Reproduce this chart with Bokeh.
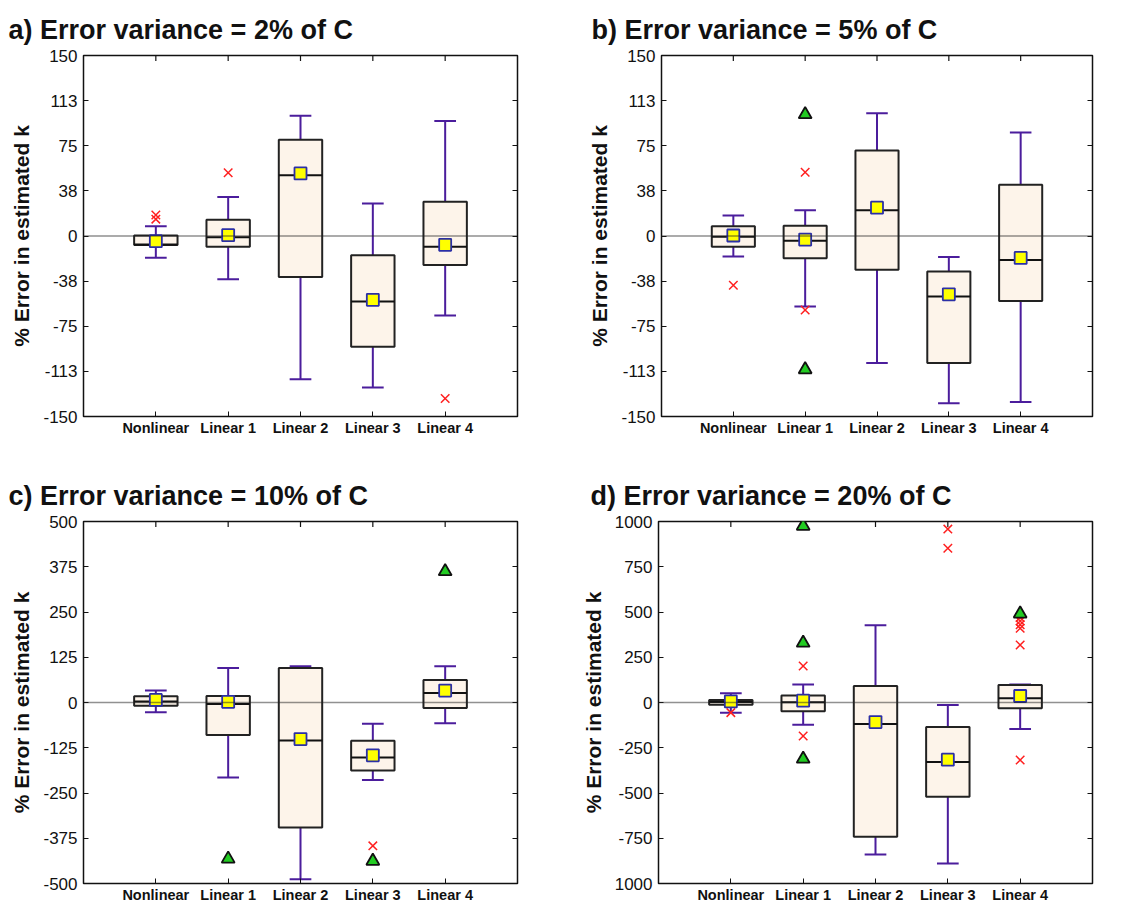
import math
from bokeh.plotting import figure
from bokeh.layouts import column, row
from bokeh.models import FixedTicker, LinearAxis, Span, Range1d, ColumnDataSource
from bokeh.embed import file_html
from bokeh.resources import INLINE

categories = ["Nonlinear", "Linear 1", "Linear 2", "Linear 3", "Linear 4"]

# ---- panel a: error variance 2% ----
a_lo = [-18, -36, -119, -126, -66]
a_q1 = [-7.5, -9, -34, -92, -24]
a_med = [-7, -1, 50.5, -54.5, -9]
a_q3 = [0.5, 13.5, 80, -16, 28.5]
a_hi = [8, 32.5, 100, 27, 95.5]
a_mean = [-4.3, 0.7, 52, -53, -7.3]
a_out_cat = ["Nonlinear", "Nonlinear", "Linear 1", "Linear 4"]
a_out_val = [14, 17.5, 52.5, -135]
a_tri_cat = []
a_tri_val = []

# ---- panel b: error variance 5% ----
b_lo = [-17, -58.5, -105.5, -139, -138]
b_q1 = [-9, -18.5, -28, -105.5, -54]
b_med = [-0.7, -4, 21.5, -50.3, -20]
b_q3 = [8, 8.5, 71, -29.5, 42.5]
b_hi = [17, 21.5, 102, -17.5, 86]
b_mean = [0.4, -3, 23.5, -48.5, -18.2]
b_out_cat = ["Nonlinear", "Linear 1", "Linear 1"]
b_out_val = [-41, 53, -61.5]
b_tri_cat = ["Linear 1", "Linear 1"]
b_tri_val = [101, -111]

# ---- panel c: error variance 10% ----
c_lo = [-27, -207, -488, -214, -57]
c_q1 = [-9, -90, -345, -188, -15]
c_med = [3, -4, -105, -152, 26]
c_q3 = [17, 18, 95, -106, 62]
c_hi = [33, 95, 100, -59, 100]
c_mean = [7, 2, -101, -146, 33]
c_out_cat = ["Linear 3"]
c_out_val = [-396]
c_tri_cat = ["Linear 1", "Linear 3", "Linear 4"]
c_tri_val = [-432, -438, 362]

# ---- panel d: error variance 20% ----
d_lo = [-56, -123, -840, -889, -147]
d_q1 = [-12, -49, -742, -521, -32]
d_med = [3, 1, -119, -329, 23]
d_q3 = [14, 38, 91, -135, 97]
d_hi = [51, 99, 427, -14, 100]
d_mean = [6, 10, -108, -316, 36]
d_out_cat = ["Nonlinear", "Linear 1", "Linear 1", "Linear 3", "Linear 3",
             "Linear 4", "Linear 4", "Linear 4", "Linear 4", "Linear 4", "Linear 4"]
d_out_val = [-56, 202, -185, 958, 852, 470, 450, 430, 410, 318, -318]
d_tri_cat = ["Linear 1", "Linear 1", "Linear 1", "Linear 4"]
d_tri_val = [975, 329, -312, 490]

ticks_ab = [-150, -112.5, -75, -37.5, 0, 37.5, 75, 112.5, 150]
labels_ab = ["-150", "-113", "-75", "-38", "0", "38", "75", "113", "150"]
ticks_c = [-500, -375, -250, -125, 0, 125, 250, 375, 500]
labels_c = ["-500", "-375", "-250", "-125", "0", "125", "250", "375", "500"]
ticks_d = [-1000, -750, -500, -250, 0, 250, 500, 750, 1000]
labels_d = ["1000", "-750", "-500", "-250", "0", "250", "500", "750", "1000"]

titles = ["a) Error variance = 2% of C", "b) Error variance = 5% of C",
          "c) Error variance = 10% of C", "d) Error variance = 20% of C"]
ylabel = "% Error in estimated k"

FONT = "Liberation Sans"
BOX_FILL = "#fdf4ea"
WHISK = "#4b1d9c"
MEAN_FILL = "#ffff00"
MEAN_LINE = "#2b2fa6"
OUT_COL = "#ff2020"
TRI_FILL = "#22cc22"
INK = "#111111"


def xpos(cat):
    return categories.index(cat) + 1


def mirror_axis(ticks):
    return LinearAxis(ticker=FixedTicker(ticks=ticks),
                      major_label_overrides={t: "" for t in ticks},
                      major_label_text_color=None, major_label_text_font_size="1px",
                      major_tick_in=5, major_tick_out=0, minor_tick_line_color=None,
                      major_label_standoff=0, axis_line_color=INK, major_tick_line_color=INK)


def make_panel(title, lo, q1, med, q3, hi, mean, out_cat, out_val, tri_cat, tri_val,
               yticks, ylabels, yrange, fw, fh, left, top, right, bottom, toff):
    xs = [xpos(c) for c in categories]
    p = figure(frame_width=fw, frame_height=fh, min_border_left=left, min_border_top=top,
               min_border_right=right, min_border_bottom=bottom,
               x_range=Range1d(0, len(categories) + 1), y_range=Range1d(*yrange),
               output_backend="svg", toolbar_location=None, title=title)
    p.title.text_font = FONT
    p.title.text_font_size = "27px"
    p.title.text_font_style = "bold"
    p.title.text_color = INK
    p.title.vertical_align = "top"
    p.title.align = "left"
    p.title.offset = toff
    p.title.standoff = 17
    p.grid.visible = False
    p.outline_line_color = INK
    p.outline_line_width = 1.5
    p.background_fill_color = "white"
    p.border_fill_color = "white"

    xa = p.xaxis[0]
    xa.ticker = FixedTicker(ticks=xs)
    xa.major_label_overrides = {x: c for x, c in zip(xs, categories)}
    xa.minor_tick_line_color = None
    xa.major_tick_in = 5
    xa.major_tick_out = 0
    xa.major_tick_line_color = INK
    xa.major_label_standoff = 3
    xa.major_label_text_font = FONT
    xa.major_label_text_font_size = "14.5px"
    xa.major_label_text_font_style = "bold"
    xa.major_label_text_color = INK
    xa.axis_line_color = INK

    ya = p.yaxis[0]
    ya.ticker = FixedTicker(ticks=yticks)
    ya.major_label_overrides = {t: l for t, l in zip(yticks, ylabels)}
    ya.minor_tick_line_color = None
    ya.major_tick_in = 5
    ya.major_tick_out = 0
    ya.major_tick_line_color = INK
    ya.major_label_standoff = 6
    ya.major_label_text_font = FONT
    ya.major_label_text_font_size = "17px"
    ya.major_label_text_color = INK
    ya.axis_label = ylabel
    ya.axis_label_text_font = FONT
    ya.axis_label_text_font_size = "21px"
    ya.axis_label_text_font_style = "bold"
    ya.axis_label_text_color = INK
    ya.axis_label_standoff = 7
    ya.axis_line_color = INK

    p.add_layout(mirror_axis(yticks), "right")
    # inward tick marks along the top edge (half of each dash is clipped by the frame)
    p.scatter(xs, [yrange[1]] * len(xs), marker="dash", size=11, angle=math.pi / 2,
              line_color=INK, line_width=1.2)

    src = ColumnDataSource(dict(x=xs, lo=lo, q1=q1, med=med, q3=q3, hi=hi, mean=mean,
                                x0=[x - 0.15 for x in xs], x1=[x + 0.15 for x in xs],
                                m0=[x - 0.3 for x in xs], m1=[x + 0.3 for x in xs]))
    p.segment(x0="x", y0="lo", x1="x", y1="hi", source=src, line_color=WHISK, line_width=2)
    p.segment(x0="x0", y0="hi", x1="x1", y1="hi", source=src, line_color=WHISK, line_width=2)
    p.segment(x0="x0", y0="lo", x1="x1", y1="lo", source=src, line_color=WHISK, line_width=2)
    p.vbar(x="x", width=0.6, bottom="q1", top="q3", source=src, fill_color=BOX_FILL,
           line_color="#222222", line_width=2)
    p.segment(x0="m0", y0="med", x1="m1", y1="med", source=src, line_color=INK,
              line_width=2)
    zero = Span(location=0, dimension="width", line_color="#222222", line_width=1.4,
                line_dash="1 1")
    p.add_layout(zero)
    if out_cat:
        p.scatter([xpos(c) for c in out_cat], out_val, marker="x", size=12,
                  line_color=OUT_COL, line_width=1.5)
    if tri_cat:
        p.scatter([xpos(c) for c in tri_cat], tri_val, marker="triangle", size=13,
                  fill_color=TRI_FILL, line_color=INK, line_width=1.8)
    p.scatter("x", "mean", source=src, marker="square", size=12, fill_color=MEAN_FILL,
              line_color=MEAN_LINE, line_width=1.8)
    return p


pa = make_panel(titles[0], a_lo, a_q1, a_med, a_q3, a_hi, a_mean, a_out_cat, a_out_val,
                a_tri_cat, a_tri_val, ticks_ab, labels_ab, (-150, 150),
                434, 361, 83, 55, 49, 44, -75)
pb = make_panel(titles[1], b_lo, b_q1, b_med, b_q3, b_hi, b_mean, b_out_cat, b_out_val,
                b_tri_cat, b_tri_val, ticks_ab, labels_ab, (-150, 150),
                431, 361, 95, 55, 40, 44, -70)
pc = make_panel(titles[2], c_lo, c_q1, c_med, c_q3, c_hi, c_mean, c_out_cat, c_out_val,
                c_tri_cat, c_tri_val, ticks_c, labels_c, (-500, 500),
                434, 362, 83, 61, 49, 20, -75)
pd = make_panel(titles[3], d_lo, d_q1, d_med, d_q3, d_hi, d_mean, d_out_cat, d_out_val,
                d_tri_cat, d_tri_val, ticks_d, labels_d, (-1000, 1000),
                434, 362, 92, 58, 40, 23, -68)

layout = column(row(pa, pb), row(pc, pd))
open("out.html", "w").write(file_html(layout, INLINE))
